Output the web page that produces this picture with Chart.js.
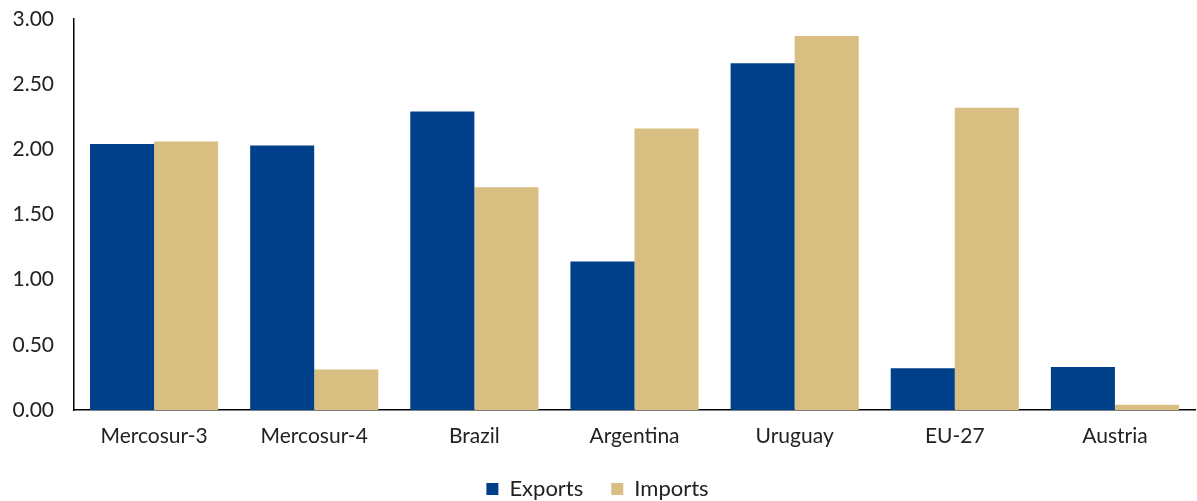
<!DOCTYPE html>
<html><head><meta charset="utf-8">
<script src="https://cdn.jsdelivr.net/npm/chart.js@4"></script>
<style>html,body{margin:0;padding:0;background:#fff;overflow:hidden}#wrap{width:1197px;height:501px;overflow:hidden}canvas{display:block}</style>
</head><body><div id="wrap"><canvas id="c" width="1197" height="510"></canvas></div>
<script>
const categories = ["Mercosur-3","Mercosur-4","Brazil","Argentina","Uruguay","EU-27","Austria"];
const exportsVals = [2.04, 2.03, 2.29, 1.14, 2.66, 0.32, 0.33];
const importsVals = [2.06, 0.31, 1.71, 2.16, 2.87, 2.32, 0.04];
const yTicks = [0, 0.5, 1, 1.5, 2, 2.5, 3];
Chart.defaults.font.family = "Lato, 'Open Sans', sans-serif";
new Chart(document.getElementById('c'), {
  type: 'bar',
  data: { labels: categories, datasets: [
    { label: 'Exports', data: exportsVals, backgroundColor: '#00408A' },
    { label: 'Imports', data: importsVals, backgroundColor: '#D8BE80' }
  ]},
  options: {
    responsive: false, animation: false,
    layout: { padding: { left: 0, right: 2, top: 19, bottom: 0 } },
    datasets: { bar: { categoryPercentage: 0.8, barPercentage: 1.0 } },
    plugins: {
      tooltip: { enabled: false },
      legend: { position: 'bottom', labels: { boxWidth: 12, boxHeight: 12, color: '#222', font: { size: 22 }, padding: 28 } }
    },
    scales: {
      x: { grid: { display: false, drawTicks: false }, border: { color: '#000', width: 1.5 },
           afterFit: a => { a.height = 40; },
           ticks: { color: '#222', font: { size: 21 }, padding: 14 } },
      y: { min: 0, max: 3, grid: { display: false, drawTicks: false }, border: { color: '#000', width: 1.5 },
           afterBuildTicks: a => { a.ticks = yTicks.map(v => ({ value: v })); },
           afterFit: a => { a.width = 74; a.paddingTop = 0; a.paddingBottom = 0; },
           ticks: { color: '#222', font: { size: 21 }, padding: 20, callback: v => Number(v).toFixed(2) } }
    }
  }
});
</script></body></html>
